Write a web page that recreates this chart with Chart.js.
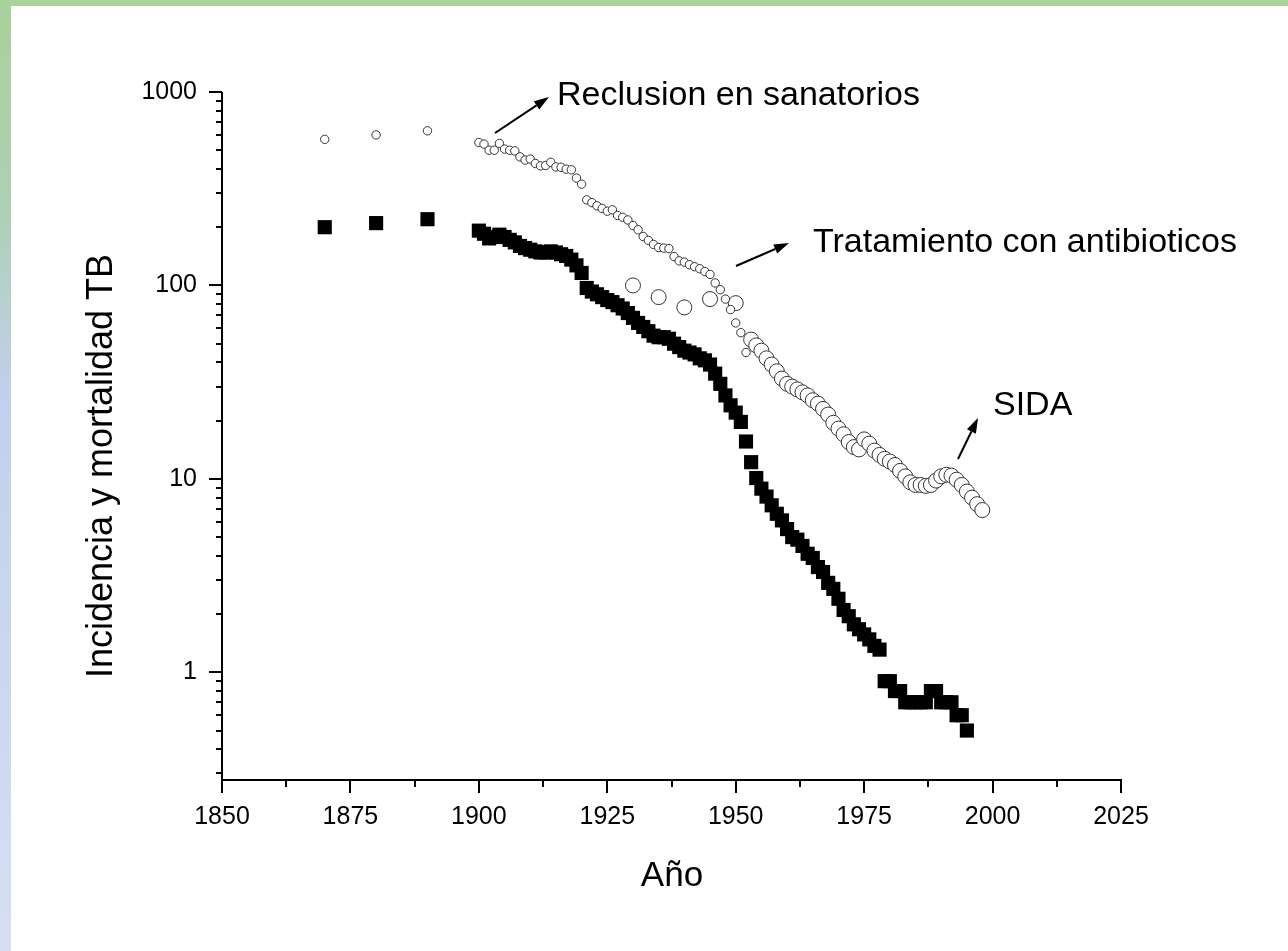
<!DOCTYPE html>
<html>
<head>
<meta charset="utf-8">
<title>Incidencia y mortalidad TB</title>
<script src="https://cdn.jsdelivr.net/npm/chart.js@4.4.1/dist/chart.umd.min.js"></script>
<style>
    html, body { margin: 0; padding: 0; background: #fff; }
    #wrap { position: relative; width: 1288px; height: 951px; overflow: hidden; }
    #topbar { position: absolute; left: 0; top: 0; width: 1288px; height: 6px; background: #a8d29a; }
    #leftbar {
        position: absolute; left: 0; top: 0; width: 11px; height: 951px;
        background: linear-gradient(#a8d29a 0%, #aed0b4 22%, #c1d0ee 42%, #d6dff3 100%);
    }
    canvas { position: absolute; left: 0; top: 0; }
</style>
</head>
<body>
<div id="wrap">
    <canvas id="tb-chart" width="1288" height="951"></canvas>
    <div id="topbar"></div>
    <div id="leftbar"></div>
</div>
<script>
    function range(a, b) {
        const out = [];
        for (let v = a; v <= b; v++) out.push(v);
        return out;
    }

    // incidencia anual (circulos pequeños)
    const incidenciaYears = [1870, 1880, 1890].concat(range(1900, 1952));
    const incidenciaValues = [
        569, 600, 630,
        548, 538, 500, 500, 542, 507, 500, 496, 462, 445,
        450, 427, 415, 417, 433, 410, 408, 399, 396, 359,
        334, 277, 268, 258, 250, 242, 246, 230, 225, 218,
        204, 194, 179, 171, 163, 157, 156, 155, 141, 134,
        132, 128, 125, 122, 118, 114, 103, 95, 85, 75,
        64, 57, 45
    ];

    // incidencia (circulos grandes)
    const incidencia2Years = [1930, 1935, 1940, 1945, 1950].concat(range(1953, 1998));
    const incidencia2Values = [
        100, 87, 77, 85, 81,
        52.5, 49, 46, 42, 39, 36, 33, 31, 30, 29,
        28, 27, 25.5, 24.5, 23, 21.5, 19.5, 18.2, 17, 15.5,
        14.6, 14.2, 16, 15.2, 14, 13.3, 12.7, 12.3, 11.8, 11,
        10.3, 9.6, 9.3, 9.3, 9.2, 9.3, 9.8, 10.3, 10.5, 10.4,
        9.9, 9.3, 8.6, 8, 7.4, 6.9
    ];

    // mortalidad (cuadrados negros)
    const mortalidadYears = [1870, 1880, 1890].concat(range(1900, 1995));
    const mortalidadValues = [
        200, 210, 220,
        192, 185, 175, 178, 183, 178, 172, 167, 160, 156,
        153, 150, 148, 148, 150, 148, 145, 142, 136, 127,
        116, 97, 93, 90, 87, 84, 82, 79, 76, 72,
        68, 64, 61, 58, 55, 54, 54, 53, 50, 48,
        46, 45, 44, 42, 41, 39, 35, 31, 27, 24,
        22, 19.7, 15.6, 12.2, 10.1, 8.9, 8.1, 7.3, 6.6, 6.1,
        5.5, 5.0, 4.85, 4.5, 4.1, 3.9, 3.5, 3.3, 2.9, 2.7,
        2.4, 2.1, 1.95, 1.77, 1.67, 1.57, 1.48, 1.37, 1.31, 0.9,
        0.9, 0.8, 0.8, 0.7, 0.7, 0.7, 0.7, 0.7, 0.8, 0.8,
        0.7, 0.7, 0.7, 0.6, 0.6, 0.5
    ];

    const xTickLabels = [1850, 1875, 1900, 1925, 1950, 1975, 2000, 2025];
    const yTickLabels = [1, 10, 100, 1000];

    const FONT = '"Liberation Sans", Arial, sans-serif';

    function toPoints(xs, ys) {
        return xs.map((x, i) => ({ x: x, y: ys[i] }));
    }

    function drawArrow(ctx, x1, y1, x2, y2) {
        const ang = Math.atan2(y2 - y1, x2 - x1);
        const len = 15, half = 5;
        const bx = x2 - len * Math.cos(ang), by = y2 - len * Math.sin(ang);
        ctx.beginPath();
        ctx.moveTo(x1, y1);
        ctx.lineTo(bx, by);
        ctx.stroke();
        ctx.beginPath();
        ctx.moveTo(x2, y2);
        ctx.lineTo(bx + half * Math.sin(ang), by - half * Math.cos(ang));
        ctx.lineTo(bx - half * Math.sin(ang), by + half * Math.cos(ang));
        ctx.closePath();
        ctx.fill();
    }

    const axesPlugin = {
        id: 'originAxes',
        afterDraw(chart) {
            const { ctx, chartArea: a, scales: { x, y } } = chart;
            ctx.save();
            ctx.strokeStyle = '#000';
            ctx.fillStyle = '#000';
            ctx.lineWidth = 2;

            ctx.beginPath();
            ctx.moveTo(a.left, a.top);
            ctx.lineTo(a.left, a.bottom);
            ctx.lineTo(a.right + 1, a.bottom);
            ctx.stroke();

            // eje x
            ctx.font = '25px ' + FONT;
            ctx.textAlign = 'center';
            ctx.textBaseline = 'alphabetic';
            for (let v = x.min; v <= x.max; v += 12.5) {
                const px = Math.round(x.getPixelForValue(v));
                const major = xTickLabels.includes(v);
                ctx.beginPath();
                ctx.moveTo(px, a.bottom);
                ctx.lineTo(px, a.bottom + (major ? 13 : 7));
                ctx.stroke();
            }
            xTickLabels.forEach(v => ctx.fillText(String(v), x.getPixelForValue(v), a.bottom + 44));

            // eje y (log)
            for (let d = 0.1; d <= 1000; d *= 10) {
                for (let m = 1; m <= 9; m++) {
                    const v = Math.round(d * m * 1000) / 1000;
                    if (v < y.min || v > y.max) continue;
                    const py = Math.round(y.getPixelForValue(v));
                    ctx.beginPath();
                    ctx.moveTo(a.left - (m === 1 ? 13 : 6), py);
                    ctx.lineTo(a.left, py);
                    ctx.stroke();
                }
            }
            ctx.textAlign = 'right';
            ctx.textBaseline = 'middle';
            yTickLabels.forEach(v => ctx.fillText(String(v), a.left - 25, y.getPixelForValue(v)));

            // titulos
            ctx.font = '35px ' + FONT;
            ctx.textAlign = 'center';
            ctx.textBaseline = 'alphabetic';
            ctx.fillText('Año', 672, 886);

            ctx.save();
            ctx.translate(112, 466);
            ctx.rotate(-Math.PI / 2);
            ctx.font = '36px ' + FONT;
            ctx.fillText('Incidencia y mortalidad TB', 0, 0);
            ctx.restore();

            // anotaciones
            ctx.font = '34px ' + FONT;
            ctx.textAlign = 'left';
            ctx.fillText('Reclusion en sanatorios', 557, 105);
            ctx.fillText('Tratamiento con antibioticos', 813, 252);
            ctx.fillText('SIDA', 993, 415);

            ctx.lineWidth = 2;
            drawArrow(ctx, 495, 133, 549, 97);
            drawArrow(ctx, 736, 266, 789, 243);
            drawArrow(ctx, 958, 459, 978, 418);
            ctx.restore();
        }
    };

    const ctx = document.getElementById('tb-chart').getContext('2d');
    new Chart(ctx, {
        type: 'scatter',
        data: {
            datasets: [
                {
                    label: 'Incidencia',
                    data: toPoints(incidenciaYears, incidenciaValues),
                    pointStyle: 'circle',
                    pointRadius: 4.2,
                    pointBackgroundColor: '#fff',
                    pointBorderColor: '#333',
                    pointBorderWidth: 1
                },
                {
                    label: 'Incidencia 2',
                    data: toPoints(incidencia2Years, incidencia2Values),
                    pointStyle: 'circle',
                    pointRadius: 7.5,
                    pointBackgroundColor: '#fff',
                    pointBorderColor: '#333',
                    pointBorderWidth: 1
                },
                {
                    label: 'Mortalidad',
                    data: toPoints(mortalidadYears, mortalidadValues),
                    pointStyle: 'rect',
                    pointRadius: 10,
                    pointBackgroundColor: '#000',
                    pointBorderColor: '#000',
                    pointBorderWidth: 0
                }
            ]
        },
        options: {
            responsive: false,
            animation: false,
            devicePixelRatio: 1,
            layout: { padding: { left: 222, top: 92, right: 167, bottom: 171 } },
            plugins: {
                legend: { display: false },
                tooltip: { enabled: false }
            },
            scales: {
                x: { type: 'linear', min: 1850, max: 2025, display: false },
                y: { type: 'logarithmic', min: 0.2775, max: 1000, display: false }
            }
        },
        plugins: [axesPlugin]
    });
</script>
</body>
</html>
